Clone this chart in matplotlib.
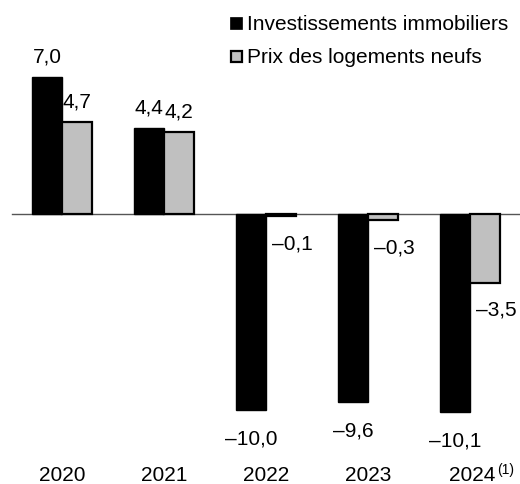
import matplotlib
matplotlib.use("Agg")
import matplotlib.pyplot as plt
import numpy as np

years = ["2020", "2021", "2022", "2023", "2024"]
invest = [7.0, 4.4, -10.0, -9.6, -10.1]
prix = [4.7, 4.2, -0.1, -0.3, -3.5]
series_names = ["Investissements immobiliers", "Prix des logements neufs"]

plt.rcParams['font.family'] = ['Liberation Sans', 'DejaVu Sans']

fig = plt.figure(figsize=(5.2, 4.84), dpi=100)
ax = fig.add_axes([0, 0, 1, 1])
ax.set_xlim(-0.608, 4.490)
ax.set_ylim(-13.78, 10.92)
ax.axis('off')

x = np.arange(len(years))
w = 0.29
ax.bar(x, invest, width=-w, align='edge', color='black', edgecolor='black', linewidth=1, zorder=3)
ax.bar(x, prix, width=w, align='edge', color='#c0c0c0', edgecolor='black', linewidth=1.6, zorder=3)
ax.plot([-0.49, 4.49], [0, 0], color='#555555', linewidth=1, zorder=2)

fmt = lambda v: (f"{v:.1f}".replace('.', ',').replace('-', '\u2013'))
fs = 15
for i in range(len(years)):
    v = invest[i]
    if v >= 0:
        ax.annotate(fmt(v), (x[i] - w / 2, v), xytext=(0, 10), textcoords='offset points',
                    ha='center', va='baseline', fontsize=fs)
    else:
        ax.annotate(fmt(v), (x[i] - w / 2, v), xytext=(0, -25), textcoords='offset points',
                    ha='center', va='baseline', fontsize=fs)
    p = prix[i]
    if p >= 0:
        ax.annotate(fmt(p), (x[i] + w / 2, p), xytext=(0, 10), textcoords='offset points',
                    ha='center', va='baseline', fontsize=fs)
    else:
        ax.annotate(fmt(p), (x[i] + w / 2, p), xytext=(8.5, -24), textcoords='offset points',
                    ha='center', va='baseline', fontsize=fs)

for i, yr in enumerate(years):
    dx = 0.02 if i == 4 else 0.0
    ax.text(x[i] + dx, -13.62, yr, ha='center', va='baseline', fontsize=fs)
ax.text(4.265, -13.27, "(1)", ha='left', va='baseline', fontsize=10)

# legend
fig.patches.append(plt.Rectangle((229.5 / 520, 1 - 29 / 484), 12.5 / 520, 12 / 484,
                                 transform=fig.transFigure, facecolor='black', edgecolor='black', linewidth=0.5))
fig.patches.append(plt.Rectangle((230.5 / 520, 1 - 62 / 484), 11.5 / 520, 10.5 / 484,
                                 transform=fig.transFigure, facecolor='#c0c0c0', edgecolor='black', linewidth=1.6))
fig.text(247 / 520, 1 - 30 / 484, series_names[0], ha='left', va='baseline', fontsize=fs)
fig.text(247 / 520, 1 - 63 / 484, series_names[1], ha='left', va='baseline', fontsize=fs)

fig.savefig("out.png", dpi=100)
